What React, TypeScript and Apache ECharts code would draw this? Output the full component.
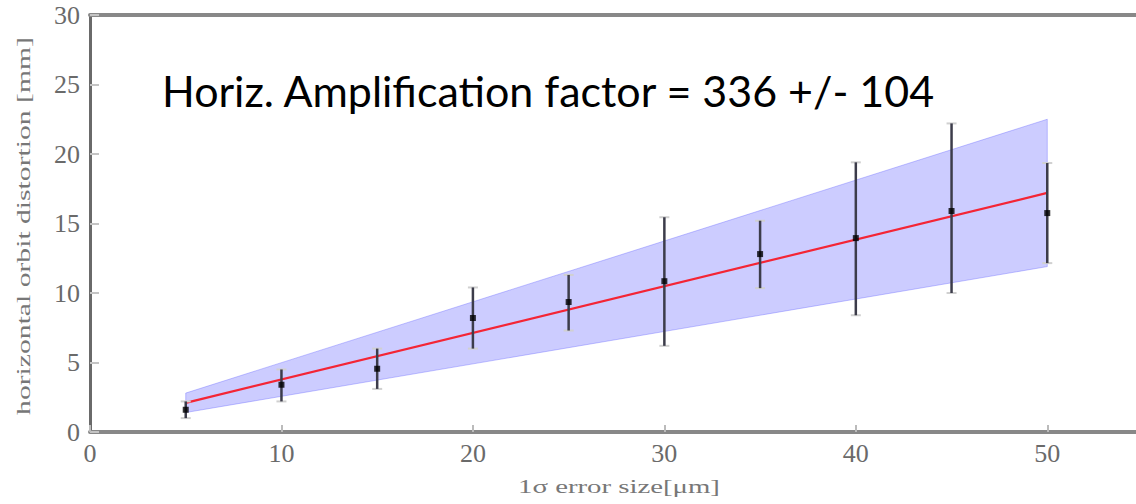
import React, { useEffect, useRef } from "react";
import * as echarts from "echarts";

// ---- data ----
const xTickValues = [0, 10, 20, 30, 40, 50];
const yTickValues = [0, 5, 10, 15, 20, 25, 30];
const errX = [5, 10, 15, 20, 25, 30, 35, 40, 45, 50];
const measY = [1.6, 3.4, 4.55, 8.2, 9.35, 10.85, 12.8, 13.95, 15.9, 15.75];
const errLow = [1.0, 2.2, 3.1, 6.0, 7.3, 6.2, 10.35, 8.4, 10.0, 12.15];
const errHigh = [2.2, 4.5, 6.0, 10.4, 11.3, 15.45, 15.2, 19.4, 22.2, 19.35];
const fitX = [5, 50];
const fitY = [2.1, 17.2];
const bandX = [5, 50];
const bandLower = [1.4, 11.9];
const bandUpper = [2.8, 22.5];

const titleText = "Horiz. Amplification factor = 336 +/- 104";
const xName = "1\u03c3 error size[\u03bcm]";
const yName = "horizontal orbit distortion [mm]";

function measure(text: string, font: string): number {
  const c = document.createElement("canvas");
  const ctx = c.getContext("2d");
  if (!ctx) return 1;
  ctx.font = font;
  return ctx.measureText(text).width;
}

export default function App() {
  const ref = useRef<HTMLDivElement>(null);
  useEffect(() => {
    if (!ref.current) return;
    const chart = echarts.init(ref.current, null, { renderer: "svg" });

    const titleFont = "42px Lato";
    const nameFont = "18px 'Liberation Serif'";
    const titleScale = 775 / measure(titleText, titleFont);
    const xNameScale = 202 / measure(xName, nameFont);
    const yNameScale = 378 / measure(yName, nameFont);

    const axisLabelStyle = {
      fontFamily: "'Liberation Serif', serif",
      fontSize: 26,
      color: "#6a6a6a",
    };

    chart.setOption({
      animation: false,
      grid: {
        left: 90,
        top: 15,
        right: -7,
        bottom: 72,
        containLabel: false,
        outerBoundsMode: "none",
      },
      xAxis: [
        {
          type: "value",
          min: 0,
          max: 55,
          interval: 10,
          position: "bottom",
          splitLine: { show: false },
          axisLine: { show: true, onZero: false, lineStyle: { color: "#888", width: 4 } },
          axisTick: { show: true, inside: true, length: 7, lineStyle: { color: "#bbb", width: 2 } },
          axisLabel: {
            ...axisLabelStyle,
            margin: 8,
            customValues: xTickValues,
          },
        },
        {
          type: "value",
          min: 0,
          max: 55,
          position: "top",
          splitLine: { show: false },
          axisLine: { show: true, onZero: false, lineStyle: { color: "#888", width: 4 } },
          axisTick: { show: false },
          axisLabel: { show: false },
        },
      ],
      yAxis: {
        type: "value",
        min: 0,
        max: 30,
        interval: 5,
        splitLine: { show: false },
        axisLine: { show: true, onZero: false, lineStyle: { color: "#6a6a6a", width: 3 } },
        axisTick: { show: true, inside: true, length: 9, lineStyle: { color: "#c4c4c4", width: 2 } },
        axisLabel: { ...axisLabelStyle, margin: 10, customValues: yTickValues },
      },
      series: [
        {
          type: "custom",
          name: "band",
          z: 1,
          data: bandX.map((x, i) => [x, bandLower[i], bandUpper[i]]),
          encode: { x: 0, y: [1, 2] },
          renderItem: (params: any, api: any) => {
            const i = params.dataIndex;
            if (i >= bandX.length - 1) return { type: "group", children: [] };
            const p1 = api.coord([bandX[i], bandUpper[i]]);
            const p2 = api.coord([bandX[i + 1], bandUpper[i + 1]]);
            const p3 = api.coord([bandX[i + 1], bandLower[i + 1]]);
            const p4 = api.coord([bandX[i], bandLower[i]]);
            return {
              type: "polygon",
              shape: { points: [p1, p2, p3, p4] },
              style: {
                fill: "rgba(0,0,255,0.2)",
                stroke: "rgba(90,90,255,0.35)",
                lineWidth: 1,
              },
            };
          },
        },
        {
          type: "line",
          name: "fit",
          z: 3,
          data: fitX.map((x, i) => [x, fitY[i]]),
          symbol: "none",
          lineStyle: { color: "#f42535", width: 2.2 },
        },
        {
          type: "custom",
          name: "errors",
          z: 4,
          data: errX.map((x, i) => [x, errLow[i], errHigh[i]]),
          encode: { x: 0, y: [1, 2] },
          renderItem: (params: any, api: any) => {
            const x = api.value(0);
            const lo = api.coord([x, api.value(1)]);
            const hi = api.coord([x, api.value(2)]);
            const cap = 5;
            return {
              type: "group",
              children: [
                {
                  type: "line",
                  shape: { x1: lo[0] - cap, y1: lo[1], x2: lo[0] + cap, y2: lo[1] },
                  style: { stroke: "#d0d0d0", lineWidth: 2 },
                },
                {
                  type: "line",
                  shape: { x1: hi[0] - cap, y1: hi[1], x2: hi[0] + cap, y2: hi[1] },
                  style: { stroke: "#d0d0d0", lineWidth: 2 },
                },
                {
                  type: "line",
                  shape: { x1: lo[0], y1: lo[1], x2: hi[0], y2: hi[1] },
                  style: { stroke: "#3c3c4a", lineWidth: 2.5 },
                },
              ],
            };
          },
        },
        {
          type: "scatter",
          name: "points",
          z: 5,
          data: errX.map((x, i) => [x, measY[i]]),
          symbol: "rect",
          symbolSize: 6,
          itemStyle: { color: "#000" },
        },
      ],
      graphic: [
        {
          type: "text",
          x: 162,
          y: 91,
          scaleX: titleScale,
          z: 10,
          style: {
            text: titleText,
            font: titleFont,
            fill: "#000",
            textAlign: "left",
            align: "left",
            textVerticalAlign: "middle",
            verticalAlign: "middle",
          },
        },
        {
          type: "text",
          x: 619,
          y: 487,
          scaleX: xNameScale,
          style: {
            text: xName,
            font: nameFont,
            fill: "#777",
            textAlign: "center",
            align: "center",
            textVerticalAlign: "middle",
            verticalAlign: "middle",
          },
        },
        {
          type: "text",
          x: 24,
          y: 226,
          rotation: Math.PI / 2,
          scaleX: yNameScale,
          style: {
            text: yName,
            font: nameFont,
            fill: "#777",
            textAlign: "center",
            align: "center",
            textVerticalAlign: "middle",
            verticalAlign: "middle",
          },
        },
      ],
    });
    return () => chart.dispose();
  }, []);
  return (
    <div
      ref={ref}
      style={{ position: "fixed", left: 0, top: 0, width: 1136, height: 504, background: "#fff" }}
    />
  );
}
